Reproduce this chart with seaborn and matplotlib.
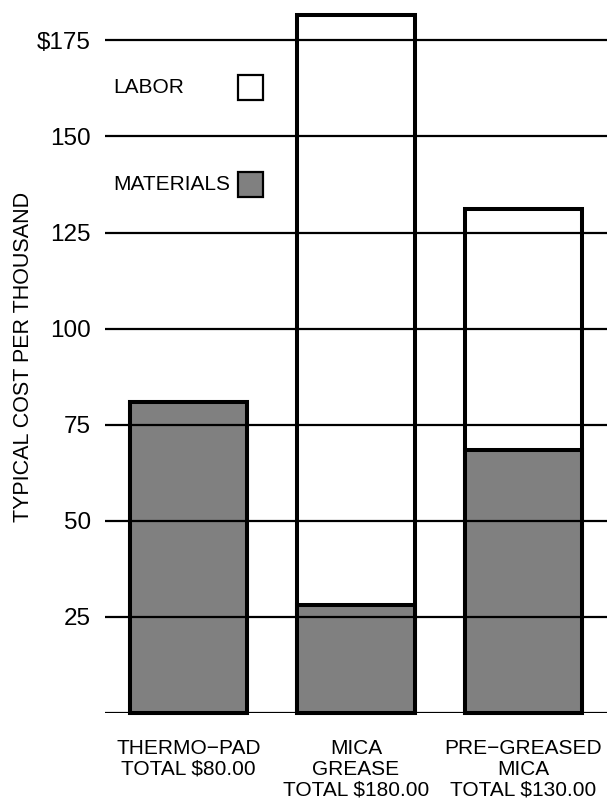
import pandas as pd
import matplotlib
matplotlib.use("Agg")
import matplotlib.pyplot as plt
from matplotlib.patches import Rectangle
import seaborn as sns

# Chart values
products = ["THERMO\u2212PAD\nTOTAL $80.00",
            "MICA\nGREASE\nTOTAL $180.00",
            "PRE\u2212GREASED\nMICA\nTOTAL $130.00"]
materials = [81, 28, 68.5]
labor = [0, 153.5, 62.5]
y_ticks = [0, 25, 50, 75, 100, 125, 150, 175]
y_tick_labels = ["", "25", "50", "75", "100", "125", "150", "$175"]

sns.set_style("white")
plt.rcParams["font.family"] = ["Liberation Sans", "DejaVu Sans"]
plt.rcParams["text.color"] = "black"
plt.rcParams["xtick.color"] = "black"
plt.rcParams["ytick.color"] = "black"
plt.rcParams["axes.labelcolor"] = "black"

df = pd.DataFrame({"product": products, "materials": materials, "labor": labor})
df["total"] = df["materials"] + df["labor"]

fig = plt.figure(figsize=(6.07, 8.06), dpi=100)
ax = fig.add_axes([105 / 607, 93 / 806, 502 / 607, 713 / 806])

# Stacked bars: white total behind, grey materials in front
sns.barplot(data=df, x="product", y="total", color="white", edgecolor="black",
            linewidth=2.9, width=0.7, saturation=1, ax=ax)
sns.barplot(data=df, x="product", y="materials", color="#808080", edgecolor="black",
            linewidth=2.9, width=0.7, saturation=1, ax=ax)
for p in ax.patches:
    p.set_clip_on(False)

ax.set_xlim(-0.5, 2.5)
ax.set_ylim(0, 185.5)
ax.set_yticks(y_ticks)
ax.set_yticklabels(y_tick_labels)
ax.yaxis.grid(True, color="black", linewidth=1.6)
ax.xaxis.grid(False)
ax.set_axisbelow(False)
for s in ax.spines.values():
    s.set_visible(False)

ax.tick_params(axis="y", length=0, pad=10, labelsize=17.5)
ax.tick_params(axis="x", length=0, pad=19, labelsize=15)
for lab in ax.get_xticklabels():
    lab.set_linespacing(1.1)
ax.set_xlabel("")
ax.set_ylabel("TYPICAL COST PER THOUSAND", fontsize=15.5)
ax.yaxis.set_label_coords(-0.141, 0.5)

# Legend: labels on the left, swatches in a column on the right
legend_items = [("LABOR", "white", 0.877), ("MATERIALS", "#808080", 0.741)]
for name, col, yy in legend_items:
    ax.text(0.016, yy, name, transform=ax.transAxes, fontsize=15,
            ha="left", va="center")
    ax.add_patch(Rectangle((0.265, yy - 0.0175), 0.0498, 0.035,
                           transform=ax.transAxes, facecolor=col,
                           edgecolor="black", linewidth=1.6, clip_on=False))

fig.savefig("out.png", dpi=100)
